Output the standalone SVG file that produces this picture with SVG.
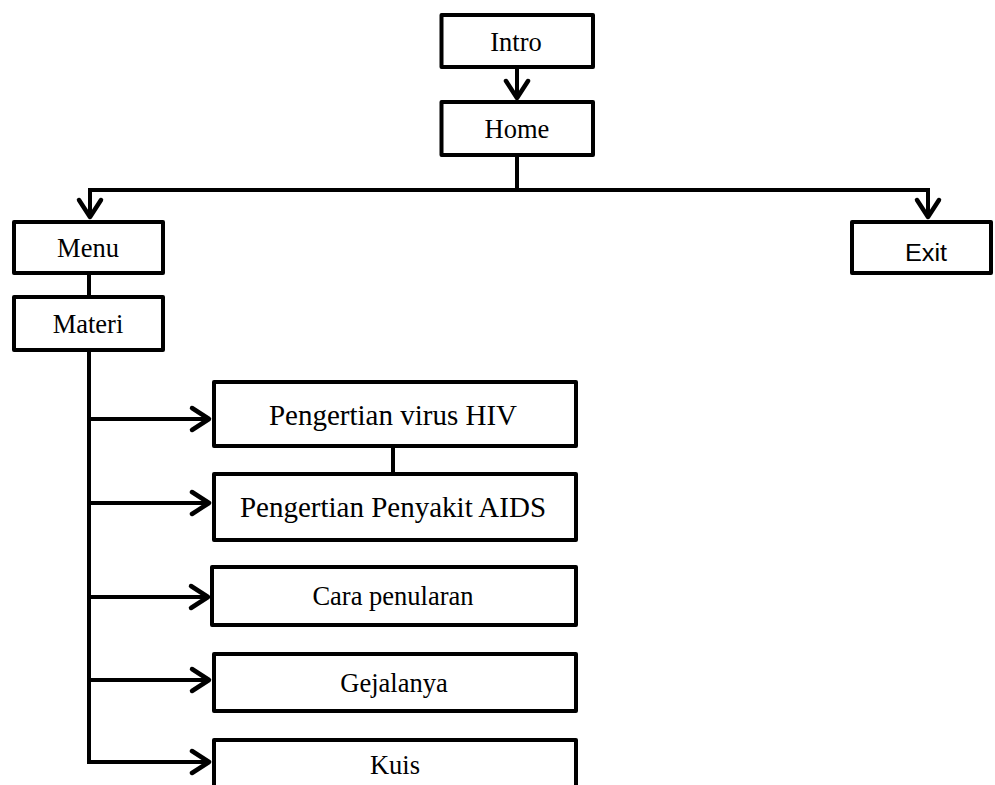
<svg xmlns="http://www.w3.org/2000/svg" width="995" height="785" viewBox="0 0 995 785">
<style>
.box{fill:#fff;stroke:#000;stroke-width:4;stroke-linejoin:round}
.ln{fill:none;stroke:#000;stroke-width:4;stroke-linecap:butt}
.t{font-family:"Liberation Serif","Times New Roman",serif;fill:#000;text-anchor:middle;font-size:26.5px}
.big{font-size:29px}
.s{font-family:"Liberation Sans",Arial,sans-serif;fill:#000;text-anchor:middle;font-size:23px}
</style>
<defs>
<marker id="chev" markerUnits="userSpaceOnUse" markerWidth="40" markerHeight="40" refX="0" refY="0" orient="auto" viewBox="-25 -20 40 40" overflow="visible">
<path d="M-17,-11 L0,0 L-17,11" fill="none" stroke="#000" stroke-width="4.5" stroke-linecap="round" stroke-linejoin="round"/>
</marker>
</defs>
<rect width="995" height="785" fill="#fff"/>
<g id="connectors">
<path class="ln" d="M517,69 V98" marker-end="url(#chev)"/>
<path class="ln" d="M517,157 V190"/>
<path class="ln" d="M88,190 H930"/>
<path class="ln" d="M90,188 V217" marker-end="url(#chev)"/>
<path class="ln" d="M928,188 V217" marker-end="url(#chev)"/>
<path class="ln" d="M89,275 V295"/>
<path class="ln" d="M89,352 V764"/>
<path class="ln" d="M87,419 H209" marker-end="url(#chev)"/>
<path class="ln" d="M87,503 H209" marker-end="url(#chev)"/>
<path class="ln" d="M87,597 H208" marker-end="url(#chev)"/>
<path class="ln" d="M87,680 H209" marker-end="url(#chev)"/>
<path class="ln" d="M87,762 H209" marker-end="url(#chev)"/>
<path class="ln" d="M393,448 V472"/>
</g>
<g id="intro"><rect class="box" x="441.5" y="15" width="151.5" height="52"/><text class="t" x="516" y="51">Intro</text></g>
<g id="home"><rect class="box" x="441.5" y="102" width="151.5" height="53"/><text class="t" x="517" y="138">Home</text></g>
<g id="menu"><rect class="box" x="14" y="222" width="149" height="51"/><text class="t" x="88" y="257">Menu</text></g>
<g id="exit"><rect class="box" x="852" y="222" width="139" height="51"/><text class="s" x="926" y="261" textLength="42" lengthAdjust="spacingAndGlyphs">Exit</text></g>
<g id="materi"><rect class="box" x="14" y="297" width="149" height="53"/><text class="t" x="88" y="333">Materi</text></g>
<g id="hiv"><rect class="box" x="214" y="382" width="362" height="64"/><text class="t big" x="393" y="425">Pengertian virus HIV</text></g>
<g id="aids"><rect class="box" x="214" y="474" width="362" height="66"/><text class="t big" x="393" y="517">Pengertian Penyakit AIDS</text></g>
<g id="cara"><rect class="box" x="212" y="567" width="364" height="58"/><text class="t" x="393" y="605">Cara penularan</text></g>
<g id="gejala"><rect class="box" x="214" y="654" width="362" height="57"/><text class="t" x="394" y="692">Gejalanya</text></g>
<g id="kuis"><rect class="box" x="214" y="740" width="362" height="60"/><text class="t" x="395" y="774">Kuis</text></g>
</svg>
